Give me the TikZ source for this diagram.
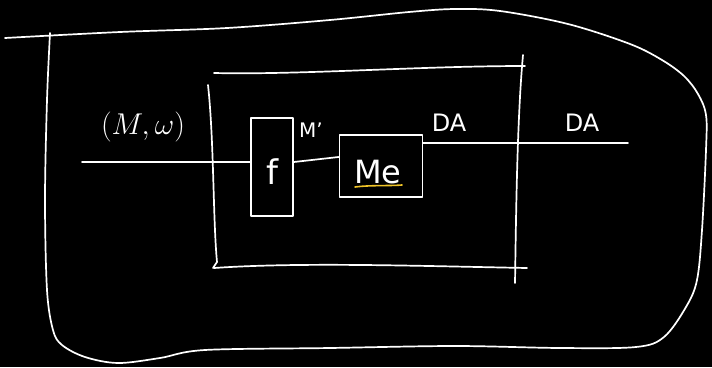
\documentclass[tikz,border=0pt]{standalone}
\usepackage{fontspec}
\setsansfont{DejaVu Sans}
\begin{document}
\begin{tikzpicture}[x=1pt,y=-1pt,line cap=round,line join=round,
  ink/.style={draw=white,line width=1.7pt},
  box/.style={ink,rectangle,inner sep=0pt},
  hand/.style={text=white,inner sep=0pt,font=\sffamily}]
\fill[black] (0,0) rectangle (712,367);
\useasboundingbox (0,0) rectangle (712,367);

% outer closed shape
\draw[ink] plot[smooth,tension=0.55] coordinates {
  (5,38) (120,32) (227,28) (330,20) (409,12) (455,9) (500,11) (568,24) (630,44)
  (662,60) (684,76) (698,94) (706,115) (706,150) (702,230) (697,280) (686,307)
  (664,337) (636,347) (560,348) (455,346) (330,348) (205,350) (160,358)
  (118,363) (85,357) (62,345) (53,330) (47,290) (45,200) (47,100) (50,33)};

% inner frame
\coordinate (tl) at (214,73);
\coordinate (tr) at (525,66);
\coordinate (bl) at (214,268);
\coordinate (br) at (527,268);
\draw[ink] (tl) .. controls (300,75) and (420,66) .. (tr);
\draw[ink] (523,55) .. controls (517,120) and (516,220) .. (515,283);
\draw[ink] (208,85) .. controls (214,140) and (213,220) .. (217,262) -- (213,268);
\draw[ink] (bl) .. controls (300,262) and (420,266) .. (br);

% blocks
\node[box,minimum width=42pt,minimum height=98pt] (f) at (272,167) {};
\node[hand,font=\sffamily\fontsize{34}{34}\selectfont] (flab) at (272,172) {f};
\node[box,minimum width=83pt,minimum height=62pt] (Me) at (381,166) {};
\node[hand,font=\sffamily\fontsize{32}{32}\selectfont] (Melab) at (378,172) {Me};
\draw[draw={rgb,255:red,240;green,196;blue,40},line width=1.6pt]
  (355,187) .. controls (370,185) and (390,186) .. (402,185);

% signals
\coordinate (in) at (82,162);
\coordinate (out) at (628,143);
\draw[ink] (in) -- (f.west |- in);
\draw[ink] (f.east |- 0,162) -- (Me.west |- 0,157);
\draw[ink] (Me.east |- out) -- (out);

% labels
\node[hand,font=\fontsize{20}{20}\selectfont,scale=1.45,transform shape] (inlab) at (143,127) {$(M,\omega)$};
\node[hand,font=\sffamily\fontsize{20}{20}\selectfont] (mlab) at (311,130) {M'};
\node[hand,font=\sffamily\fontsize{24}{24}\selectfont] (da1) at (449,123) {DA};
\node[hand,font=\sffamily\fontsize{24}{24}\selectfont] (da2) at (582,123) {DA};
\end{tikzpicture}
\end{document}
